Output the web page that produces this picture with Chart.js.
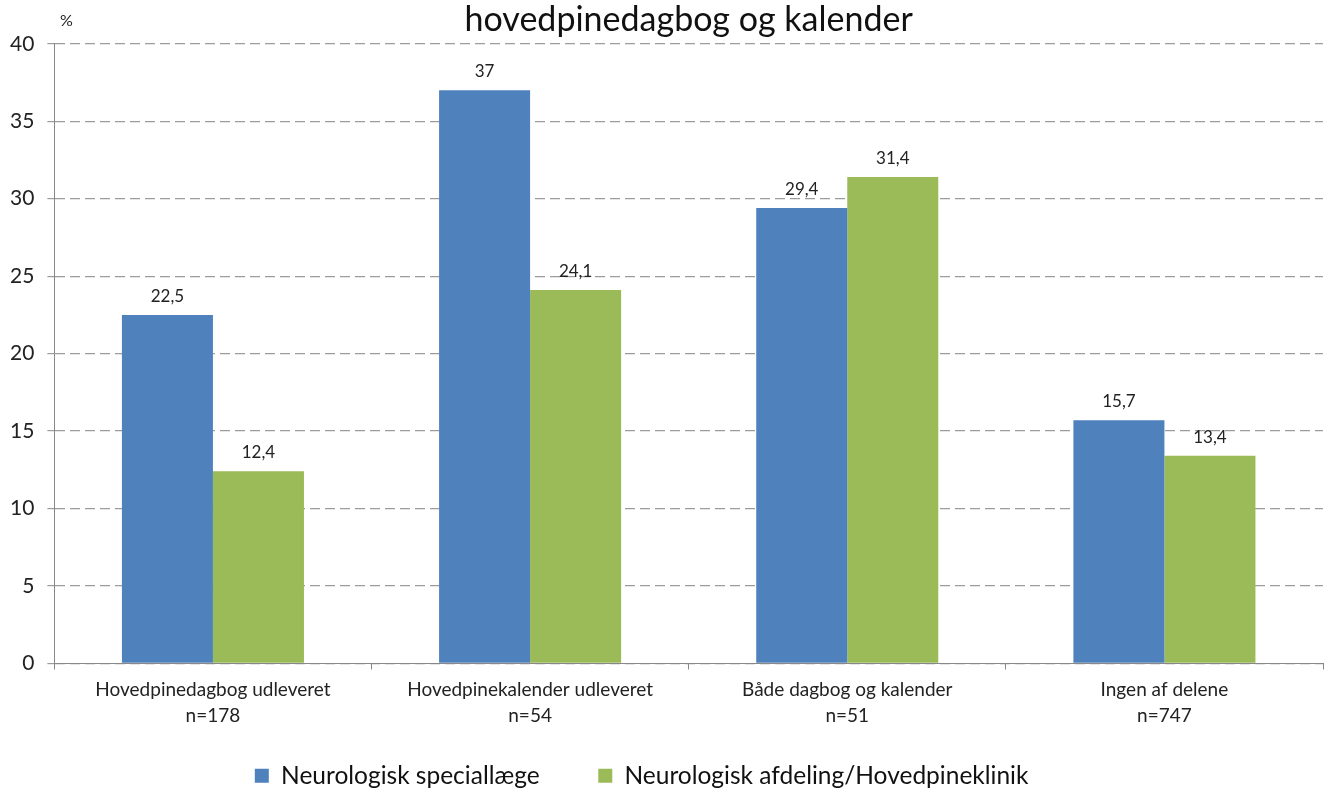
<!DOCTYPE html>
<html>
<head>
<meta charset="utf-8">
<script src="https://cdn.jsdelivr.net/npm/chart.js@4"></script>
<style>
html,body{margin:0;padding:0;background:#fff;}
#wrap{width:1327px;height:789px;position:relative;}
</style>
</head>
<body>
<div id="wrap"><canvas id="c"></canvas></div>
<script>
const categories = [
  ["Hovedpinedagbog udleveret", "n=178"],
  ["Hovedpinekalender udleveret", "n=54"],
  ["Både dagbog og kalender", "n=51"],
  ["Ingen af delene", "n=747"]
];
const seriesNames = ["Neurologisk speciallæge", "Neurologisk afdeling/Hovedpineklinik"];
const specialist = [22.5, 37, 29.4, 15.7];
const clinic = [12.4, 24.1, 31.4, 13.4];
const yTicks = [0, 5, 10, 15, 20, 25, 30, 35, 40];
const titleText = "hovedpinedagbog og kalender";
const unitLabel = "%";

const FONT = "Lato, 'Open Sans', sans-serif";

const valueLabels = {
  id: 'valueLabels',
  afterDatasetsDraw(chart) {
    const ctx = chart.ctx;
    ctx.save();
    ctx.font = "17px " + FONT;
    ctx.fillStyle = "#222";
    ctx.textAlign = "center";
    ctx.textBaseline = "bottom";
    chart.data.datasets.forEach((ds, i) => {
      const meta = chart.getDatasetMeta(i);
      meta.data.forEach((el, j) => {
        const v = ds.data[j];
        ctx.fillText(String(v).replace('.', ','), el.x, el.y - 10);
      });
    });
    ctx.restore();
  }
};

const unitPlugin = {
  id: 'unitPlugin',
  afterDraw(chart) {
    const ctx = chart.ctx;
    ctx.save();
    ctx.font = "16px " + FONT;
    ctx.fillStyle = "#222";
    ctx.textAlign = "center";
    ctx.textBaseline = "middle";
    ctx.fillText(unitLabel, chart.chartArea.left + 12, chart.chartArea.top - 23);
    ctx.restore();
  }
};

new Chart(document.getElementById('c'), {
  type: 'bar',
  data: {
    labels: categories,
    datasets: [
      { label: seriesNames[0], data: specialist, backgroundColor: '#4F81BD', borderWidth: 0 },
      { label: seriesNames[1], data: clinic, backgroundColor: '#9BBB59', borderWidth: 0 }
    ]
  },
  options: {
    responsive: true,
    maintainAspectRatio: false,
    animation: false,
    layout: { padding: { left: -3, right: 4, top: 0, bottom: -9 } },
    datasets: { bar: { categoryPercentage: 0.574, barPercentage: 1.0 } },
    plugins: {
      title: {
        display: true,
        fullSize: false,
        text: titleText,
        color: '#111',
        font: { family: FONT, size: 34, weight: 'normal', lineHeight: 1.2 },
        padding: { top: 0, bottom: 3 }
      },
      legend: {
        display: true,
        position: 'bottom',
        labels: {
          color: '#111',
          font: { family: FONT, size: 24.5 },
          boxWidth: 14,
          boxHeight: 14,
          padding: 28,
          generateLabels(chart) {
            const items = Chart.defaults.plugins.legend.labels.generateLabels(chart);
            items.forEach((it, i) => {
              it.text = it.text + (i < items.length - 1 ? '\u2003\u2002' : '\u2003\u2003');
            });
            return items;
          }
        }
      },
      tooltip: { enabled: false }
    },
    scales: {
      x: {
        offset: true,
        grid: { display: true, drawOnChartArea: false, drawTicks: true, tickLength: 6, color: '#888', offset: true },
        border: { display: true, color: '#888', width: 1 },
        ticks: { color: '#222', font: { family: FONT, size: 19, lineHeight: 1.37 }, padding: 7 }
      },
      y: {
        min: 0, max: 40,
        afterBuildTicks(scale) { scale.ticks = yTicks.map(v => ({ value: v })); },
        grid: { color: '#9c9c9c', lineWidth: 1.2, tickLength: 7 },
        border: { display: true, color: '#888', width: 1, dash: [10, 5] },
        ticks: { color: '#222', font: { family: FONT, size: 21 }, padding: 13 }
      }
    }
  },
  plugins: [valueLabels, unitPlugin]
});
</script>
</body>
</html>
